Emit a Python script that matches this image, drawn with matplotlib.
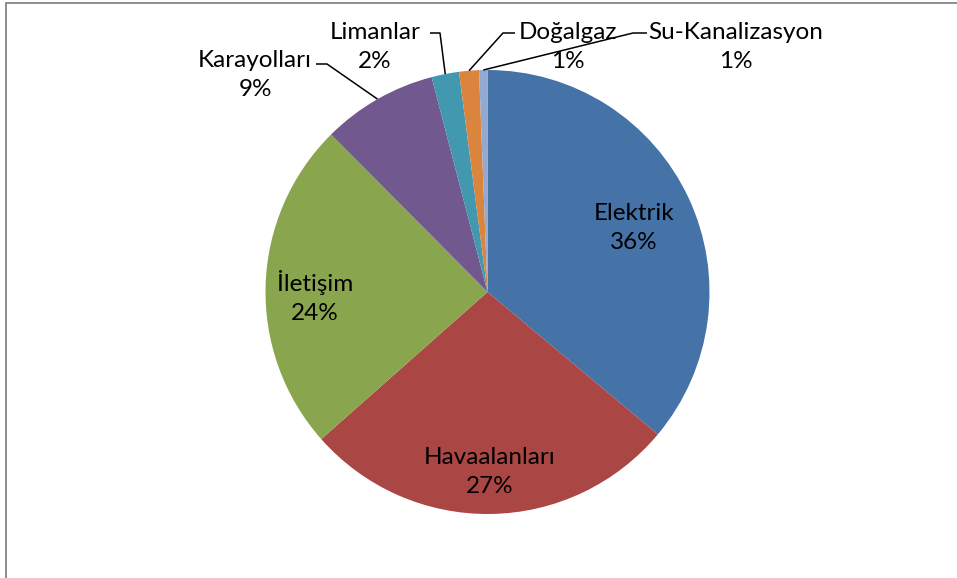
import numpy as np
import matplotlib.pyplot as plt
from matplotlib.patches import Rectangle

plt.rcParams['font.family'] = ['Lato', 'DejaVu Sans']

# slice data (percent), clockwise from 12 o'clock
labels = ['Elektrik', 'Havaalanları', 'İletişim', 'Karayolları', 'Limanlar', 'Doğalgaz', 'Su-Kanalizasyon']
values = [36.1, 27.4, 24.1, 8.4, 2.0, 1.44, 0.61]
pct_text = ['36%', '27%', '24%', '9%', '2%', '1%', '1%']
colors = ['#4572A7', '#AA4643', '#89A54E', '#71588F', '#4198AF', '#DB843D', '#93A9CF']

W, H = 957, 578
cx, cy, r = 487.5, H - 292, 222

# label block centres (pixels from top-left)
label_pos = [(634, 228), (490, 472), (315, 297), (255, 75), (375, 47), (568, 47), (736, 47)]
# elbow of leader lines for the outside labels: (x text side, x elbow, y)
leaders = {3: (316, 327, 64), 4: (430, 440, 33), 5: (515, 503, 33), 6: (647, 633, 33)}

fig = plt.figure(figsize=(W / 100, H / 100), dpi=100)
ax = fig.add_axes([0, 0, 1, 1])
ax.pie(values, colors=colors, startangle=90, counterclock=False,
       center=(cx, cy), radius=r, wedgeprops=dict(linewidth=0))
ax.set_xlim(0, W)
ax.set_ylim(0, H)
ax.set_aspect('equal')
ax.axis('off')

for i, (name, pct) in enumerate(zip(labels, pct_text)):
    x, y = label_pos[i]
    ax.text(x, H - y, name + '\n' + pct, ha='center', va='center',
            fontsize=17.5, linespacing=1.5, color='black')

# leader lines to wedge edge at mid-angle
frac = np.cumsum([0] + values) / sum(values)
for i, (x0, x1, y) in leaders.items():
    mid = (frac[i] + frac[i + 1]) / 2 * 2 * np.pi
    ex = cx + r * np.sin(mid)
    ey = cy + r * np.cos(mid)
    ax.plot([x0, x1, ex], [H - y, H - y, ey], color='black', lw=1.1,
            solid_capstyle='butt')

# chart frame (partly outside the picture)
ax.add_patch(Rectangle((6, -20), W + 20, H - 3 + 20, fill=False,
                       edgecolor='#868686', lw=1.3, clip_on=False))

fig.savefig('out.png', dpi=100)
